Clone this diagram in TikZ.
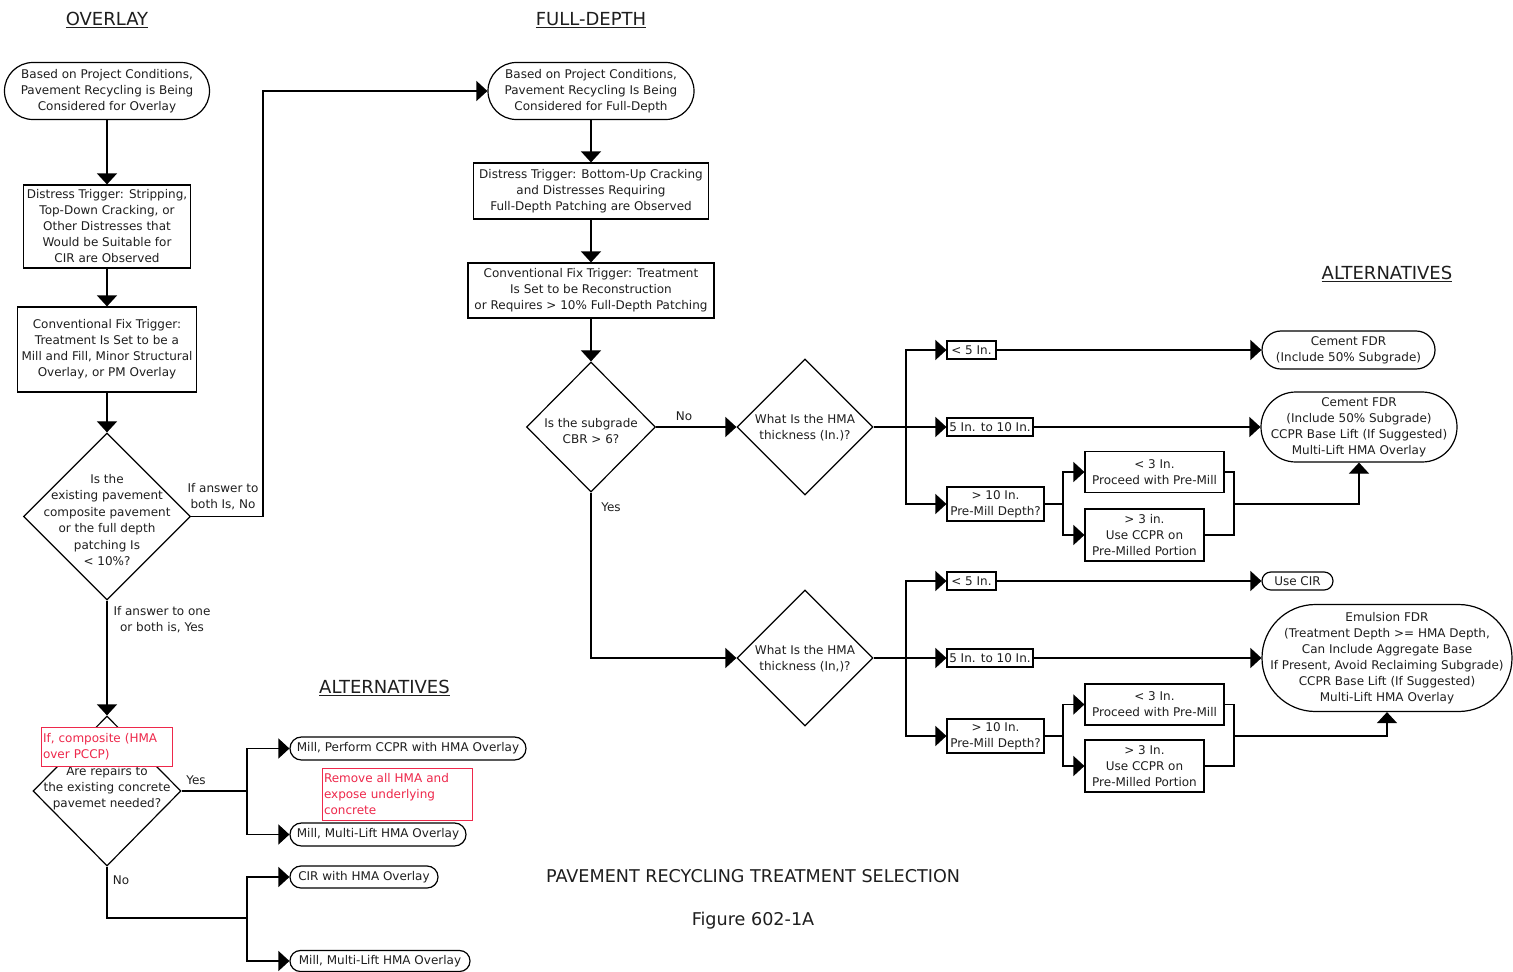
\documentclass[tikz,border=0pt]{standalone}
\usepackage{fontspec}
\setmainfont{DejaVu Sans}
\usetikzlibrary{arrows.meta,shapes.geometric}
\definecolor{txt}{RGB}{30,30,30}
\definecolor{redt}{RGB}{238,40,75}
\begin{document}
\begin{tikzpicture}[x=1pt,y=-1pt,
 every node/.style={font=\fontsize{12}{16}\selectfont, text=txt, inner sep=0pt, align=center},
 ln/.style={line width=1.2pt, draw=black},
 arr/.style={ln, -{Triangle[length=11pt,width=20pt]}},
 box/.style={draw, line width=1.2pt},
 sbox/.style={draw, line width=1.2pt, inner sep=1.5pt},
 stad/.style={draw, line width=1.2pt, rounded corners=#1},
 dia/.style={draw, line width=1.2pt, shape=diamond, aspect=1},
 redbox/.style={draw=redt, line width=1pt, fill=white, text=redt, align=left},
 title/.style={font=\fontsize{18}{22}\selectfont},
 lbl/.style={font=\fontsize{12}{16}\selectfont}
]
\useasboundingbox (0,0) rectangle (1513,972);

% titles
\node[title] (t1) at (107,20) {\underline{OVERLAY}};
\node[title] (t2) at (591,20) {\underline{FULL-DEPTH}};
\node[title] (t3) at (1387,274) {\underline{ALTERNATIVES}};
\node[title] (t4) at (384.5,688) {\underline{ALTERNATIVES}};

% left column
\node[stad=28.4, minimum width=205, minimum height=57] (s1) at (107,91)
 {Based on Project Conditions,\\Pavement Recycling is Being\\Considered for Overlay};
\node[box, minimum width=167, minimum height=83] (dt1) at (107,226.5)
 {Distress Trigger: Stripping,\\Top-Down Cracking, or\\Other Distresses that\\Would be Suitable for\\CIR are Observed};
\node[box, minimum width=179, minimum height=85] (cv1) at (107,349.5)
 {Conventional Fix Trigger:\\Treatment Is Set to be a\\Mill and Fill, Minor Structural\\Overlay, or PM Overlay};
\node[dia, minimum width=167, minimum height=167] (d1) at (107,516.5) {};
\node[font=\fontsize{12}{16.4}\selectfont] (d1t) at (107,520)
 {Is the\\existing pavement\\composite pavement\\or the full depth\\patching Is\\< 10\%?};
\node[dia, minimum width=148, minimum height=150] (d2) at (107,791) {};
\node (d2t) at (107,788) {Are repairs to\\the existing concrete\\pavemet needed?};
\node[redbox, minimum width=131, minimum height=39, text width=127] (rb1) at (106.5,746.5)
 {If, composite (HMA\\over PCCP)};

\node[lbl] (l1) at (223,497) {If answer to\\both Is, No};
\node[lbl] (l2) at (162,619.5) {If answer to one\\or both is, Yes};
\node[lbl] (l3) at (196,780) {Yes};
\node[lbl] (l4) at (121,880) {No};

% left alternatives
\node[stad=11.4, minimum width=236, minimum height=23] (a1) at (408,748.5) {Mill, Perform CCPR with HMA Overlay};
\node[redbox, minimum width=150, minimum height=52, text width=146] (rb2) at (397,794)
 {Remove all HMA and\\expose underlying\\concrete};
\node[stad=11.4, minimum width=176, minimum height=23] (a2) at (378,834.5) {Mill, Multi-Lift HMA Overlay};
\node[stad=10.9, minimum width=148, minimum height=22] (a3) at (364,877) {CIR with HMA Overlay};
\node[stad=10.4, minimum width=180, minimum height=21] (a4) at (380,961) {Mill, Multi-Lift HMA Overlay};

% middle column
\node[stad=28.4, minimum width=206, minimum height=57] (s2) at (591,91)
 {Based on Project Conditions,\\Pavement Recycling Is Being\\Considered for Full-Depth};
\node[box, minimum width=235, minimum height=56] (dt2) at (591,191)
 {Distress Trigger: Bottom-Up Cracking\\and Distresses Requiring\\Full-Depth Patching are Observed};
\node[box, minimum width=246, minimum height=55] (cv2) at (591,290.5)
 {Conventional Fix Trigger: Treatment\\Is Set to be Reconstruction\\or Requires > 10\% Full-Depth Patching};
\node[dia, minimum width=129, minimum height=130] (d3) at (591,427) {};
\node (d3t) at (591,431) {Is the subgrade\\CBR > 6?};
\node[dia, minimum width=136, minimum height=136] (d4) at (805,427) {};
\node (d4t) at (805,428) {What Is the HMA\\thickness (In.)?};
\node[dia, minimum width=136, minimum height=136] (d5) at (805,658) {};
\node (d5t) at (805,659) {What Is the HMA\\thickness (In,)?};
\node[lbl] (l5) at (684,416) {No};
\node[lbl] (l6) at (611,507) {Yes};

% right top
\node[sbox, minimum width=49, minimum height=18] (b1) at (971.5,350) {< 5 In.};
\node[sbox, minimum width=86, minimum height=18] (b2) at (990,427) {5 In. to 10 In.};
\node[sbox, minimum width=97, minimum height=34] (b3) at (995.5,504) {> 10 In.\\Pre-Mill Depth?};
\node[box, minimum width=139, minimum height=41] (c1) at (1154.5,472) {< 3 In.\\Proceed with Pre-Mill};
\node[box, minimum width=119, minimum height=52] (c2) at (1144.5,535) {> 3 in.\\Use CCPR on\\Pre-Milled Portion};
\node[stad=18.9, minimum width=173, minimum height=38] (r1) at (1348.5,350) {Cement FDR\\(Include 50\% Subgrade)};
\node[stad=34.9, minimum width=196, minimum height=70] (r2) at (1359,427)
 {Cement FDR\\(Include 50\% Subgrade)\\CCPR Base Lift (If Suggested)\\Multi-Lift HMA Overlay};

% right bottom
\node[sbox, minimum width=49, minimum height=18] (b4) at (971.5,581) {< 5 In.};
\node[sbox, minimum width=86, minimum height=18] (b5) at (990,658) {5 In. to 10 In.};
\node[sbox, minimum width=97, minimum height=34] (b6) at (995.5,736) {> 10 In.\\Pre-Mill Depth?};
\node[box, minimum width=139, minimum height=41] (c3) at (1154.5,704.5) {< 3 In.\\Proceed with Pre-Mill};
\node[box, minimum width=119, minimum height=52] (c4) at (1144.5,766) {> 3 In.\\Use CCPR on\\Pre-Milled Portion};
\node[stad=8.9, minimum width=71, minimum height=18] (r3) at (1297.5,581) {Use CIR};
\node[stad=53.4, minimum width=250, minimum height=107] (r4) at (1387,658)
 {Emulsion FDR\\(Treatment Depth >= HMA Depth,\\Can Include Aggregate Base\\If Present, Avoid Reclaiming Subgrade)\\CCPR Base Lift (If Suggested)\\Multi-Lift HMA Overlay};

% captions
\node[font=\fontsize{17.6}{22}\selectfont] (cap1) at (753,876) {PAVEMENT RECYCLING TREATMENT SELECTION};
\node[font=\fontsize{17.6}{22}\selectfont] (cap2) at (753,921) {Figure 602-1A};

% junction coordinates
\coordinate (k1) at (263,516.5);
\coordinate (k2) at (247,791);
\coordinate (k3) at (107,918);
\coordinate (k4) at (247,918);
\coordinate (k5) at (906,427);
\coordinate (k6) at (1063,504);
\coordinate (k7) at (1234,504);
\coordinate (k8) at (906,658);
\coordinate (k9) at (1063,736);
\coordinate (k10) at (1234,736);

% connectors left
\draw[arr] (s1) -- (dt1);
\draw[arr] (dt1) -- (cv1);
\draw[arr] (cv1) -- (d1);
\draw[arr] (d1.east) -- (k1) |- (s2.west);
\draw[arr] (d1.south) -- (d2.north);
\draw[ln] (d2.east) -- (k2);
\draw[arr] (k2) |- (a1.west);
\draw[arr] (k2) |- (a2.west);
\draw[ln] (d2.south) -- (k3) -- (k4);
\draw[arr] (k4) |- (a3.west);
\draw[arr] (k4) |- (a4.west);

% connectors middle
\draw[arr] (s2) -- (dt2);
\draw[arr] (dt2) -- (cv2);
\draw[arr] (cv2) -- (d3);
\draw[arr] (d3.east) -- (d4.west);
\draw[arr] (d3.south) |- (d5.west);

% connectors right top
\draw[arr] (d4.east) -- (b2.west);
\draw[arr] (k5) |- (b1.west);
\draw[arr] (k5) |- (b3.west);
\draw[arr] (b1.east) -- (r1.west);
\draw[arr] (b2.east) -- (r2.west);
\draw[ln] (b3.east) -- (k6);
\draw[arr] (k6) |- (c1.west);
\draw[arr] (k6) |- (c2.west);
\draw[ln] (c1.east) -| (k7);
\draw[ln] (c2.east) -| (k7);
\draw[arr] (k7) -| (r2.south);

% connectors right bottom
\draw[arr] (d5.east) -- (b5.west);
\draw[arr] (k8) |- (b4.west);
\draw[arr] (k8) |- (b6.west);
\draw[arr] (b4.east) -- (r3.west);
\draw[arr] (b5.east) -- (r4.west);
\draw[ln] (b6.east) -- (k9);
\draw[arr] (k9) |- (c3.west);
\draw[arr] (k9) |- (c4.west);
\draw[ln] (c3.east) -| (k10);
\draw[ln] (c4.east) -| (k10);
\draw[arr] (k10) -| (r4.south);
\end{tikzpicture}
\end{document}
